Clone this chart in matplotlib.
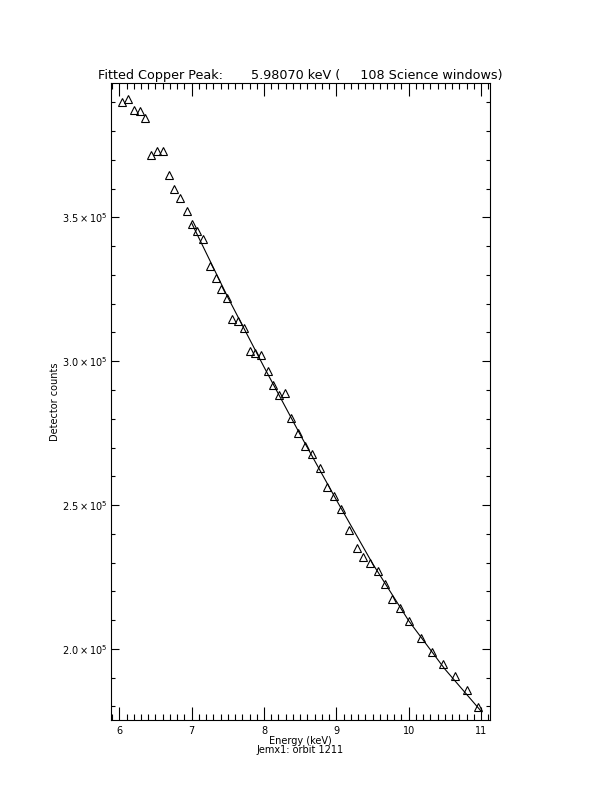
import matplotlib
matplotlib.use("Agg")
import matplotlib.pyplot as plt
from matplotlib.ticker import MultipleLocator, FixedLocator, FuncFormatter

# measured spectrum (energy in keV, counts in units of 1e5)
energy = [6.04, 6.12, 6.20, 6.28, 6.36, 6.44, 6.52, 6.60, 6.68, 6.76,
          6.84, 6.93, 7.00, 7.08, 7.16, 7.25, 7.33, 7.41, 7.49, 7.56,
          7.64, 7.72, 7.81, 7.88, 7.96, 8.05, 8.12, 8.21, 8.29, 8.37,
          8.47, 8.57, 8.67, 8.77, 8.87, 8.97, 9.07, 9.18, 9.28, 9.37,
          9.47, 9.57, 9.67, 9.77, 9.88, 10.00, 10.17, 10.32, 10.48, 10.64,
          10.80, 10.96]
counts = [3.900, 3.913, 3.873, 3.868, 3.846, 3.717, 3.732, 3.732, 3.648, 3.599,
          3.568, 3.522, 3.477, 3.453, 3.424, 3.332, 3.290, 3.252, 3.220, 3.148,
          3.140, 3.115, 3.035, 3.029, 3.022, 2.966, 2.918, 2.883, 2.889, 2.802,
          2.750, 2.706, 2.678, 2.630, 2.563, 2.532, 2.487, 2.415, 2.351, 2.320,
          2.300, 2.271, 2.225, 2.174, 2.141, 2.098, 2.039, 1.990, 1.948, 1.906,
          1.857, 1.799]

# fitted curve
fit_energy = [7.00, 7.50, 8.00, 8.50, 9.00, 9.50, 10.00, 10.50, 11.01]
fit_counts = [3.480, 3.222, 2.980, 2.745, 2.518, 2.297, 2.098, 1.930, 1.781]

ytick_vals = [2.0, 2.5, 3.0, 3.5]

fig = plt.figure(figsize=(6.12, 7.92), dpi=100)
ax = fig.add_axes([111 / 612, 72 / 792, 379 / 612, 637 / 792])

ax.plot(energy, [c * 1e5 for c in counts], linestyle="none",
        marker="^", markersize=5.8, markerfacecolor="none",
        markeredgecolor="black", markeredgewidth=0.8)
ax.plot(fit_energy, [c * 1e5 for c in fit_counts], color="black", linewidth=0.8)

ax.set_xlim(5.885, 11.124)
ax.set_ylim(1.753e5, 3.967e5)

ax.xaxis.set_major_locator(MultipleLocator(1))
ax.xaxis.set_minor_locator(MultipleLocator(0.1))
ax.yaxis.set_major_locator(FixedLocator([v * 1e5 for v in ytick_vals]))
ax.yaxis.set_minor_locator(MultipleLocator(0.1e5))
ax.yaxis.set_major_formatter(FuncFormatter(lambda v, p: r"$%.1f\times10^{5}$" % (v / 1e5)))
ax.xaxis.set_major_formatter(FuncFormatter(lambda v, p: "%d" % round(v)))

ax.tick_params(which="both", direction="in", top=True, right=True, width=0.8,
               labelsize=7)
ax.tick_params(axis="x", which="major", length=9.2, pad=4)
ax.tick_params(axis="x", which="minor", length=4.6)
ax.tick_params(axis="y", which="major", length=5.5, pad=2)
ax.tick_params(axis="y", which="minor", length=2.7)
for s in ax.spines.values():
    s.set_linewidth(0.8)

ax.set_title("Fitted Copper Peak:       5.98070 keV (     108 Science windows)",
             fontsize=9.15, pad=3)
ax.set_xlabel("Energy (keV)\nJemx1: orbit 1211", fontsize=7, labelpad=0,
              linespacing=0.95)
ax.set_ylabel("Detector counts", fontsize=7)
ax.yaxis.set_label_coords(-0.135, 0.5)

fig.savefig("out.png", dpi=100)
